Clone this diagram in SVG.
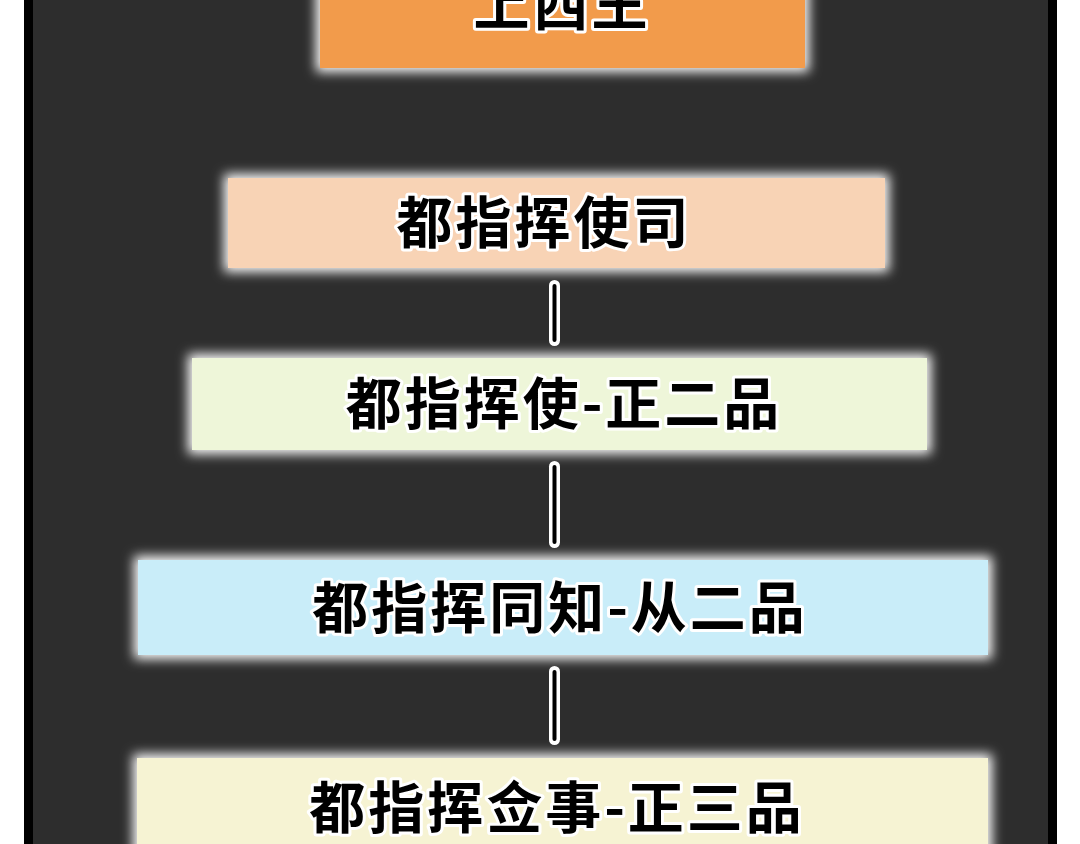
<svg xmlns="http://www.w3.org/2000/svg" width="1080" height="844" viewBox="0 0 1080 844">
<defs>
<filter id="glow" x="-10%" y="-30%" width="120%" height="160%">
<feMorphology in="SourceAlpha" operator="dilate" radius="4" result="d"/>
<feGaussianBlur in="d" stdDeviation="6" result="b"/>
<feFlood flood-color="#ffffff"/>
<feComposite in2="b" operator="in" result="g"/>
<feMerge><feMergeNode in="g"/><feMergeNode in="SourceGraphic"/></feMerge>
</filter>
<style>
.lbl{font-family:"Noto Sans CJK SC","Noto Sans",sans-serif;font-weight:700;font-size:56px;letter-spacing:3px;fill:#000;stroke:#fff;stroke-width:6px;stroke-linejoin:round;paint-order:stroke;text-anchor:middle}
.bar-o{fill:#fff}
.bar-i{fill:#000}
</style>
</defs>
<rect x="0" y="0" width="1080" height="844" fill="#ffffff"/>
<rect x="24" y="0" width="1033" height="844" fill="#000"/>
<rect x="33" y="0" width="1015" height="844" fill="#2d2d2d"/>
<g id="node-top">
<rect x="320" y="-20" width="485" height="88" fill="#F29B4B" filter="url(#glow)"/>
<text class="lbl" x="562" y="25">上西王</text>
</g>
<g id="node-1">
<rect x="228" y="178" width="657" height="90" fill="#F8D3B5" filter="url(#glow)"/>
<text class="lbl" x="544" y="243">都指挥使司</text>
</g>
<g id="node-2">
<rect x="192" y="358" width="735" height="92" fill="#EEF6D9" filter="url(#glow)"/>
<text class="lbl" x="564" y="424">都指挥使-正二品</text>
</g>
<g id="node-3">
<rect x="138" y="560" width="850" height="95" fill="#C9EDF9" filter="url(#glow)"/>
<text class="lbl" x="560" y="628">都指挥同知-从二品</text>
</g>
<g id="node-4">
<rect x="137" y="758" width="851" height="110" fill="#F6F3D3" filter="url(#glow)"/>
<text class="lbl" x="557" y="828">都指挥佥事-正三品</text>
</g>
<g id="connectors">
<rect class="bar-o" x="549" y="280" width="11" height="66" rx="5.5"/>
<rect class="bar-i" x="552.5" y="284" width="4" height="58" rx="2"/>
<rect class="bar-o" x="549" y="461" width="11" height="87" rx="5.5"/>
<rect class="bar-i" x="552.5" y="465" width="4" height="79" rx="2"/>
<rect class="bar-o" x="549" y="666" width="11" height="79" rx="5.5"/>
<rect class="bar-i" x="552.5" y="670" width="4" height="71" rx="2"/>
</g>
</svg>
